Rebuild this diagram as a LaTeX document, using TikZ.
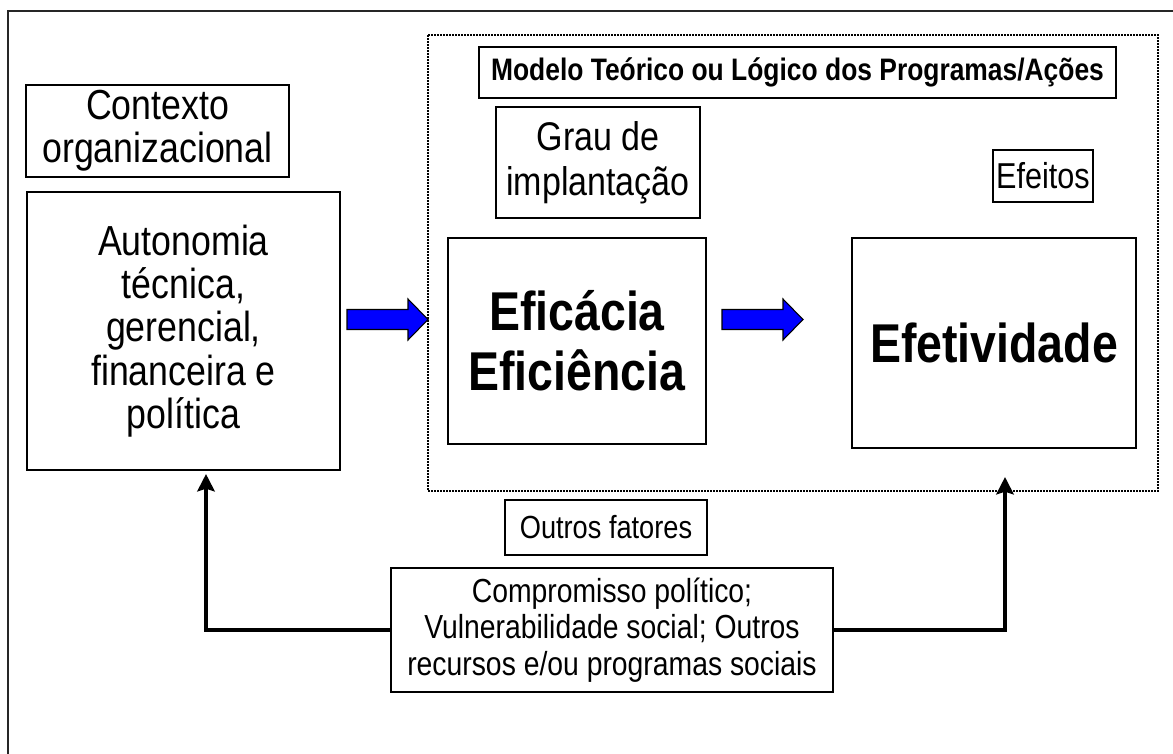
\documentclass[tikz,border=0pt]{standalone}
\usepackage{fontspec}
\setmainfont{Liberation Sans}[FakeStretch=0.85]
\usetikzlibrary{arrows.meta, positioning}
\newcommand{\bodysize}{\fontsize{30}{34}\selectfont}
\newcommand{\leftsize}{\fontsize{31.5}{32.5}\selectfont}
\newcommand{\bigsize}{\fontsize{41}{45}\selectfont\bfseries}
\newcommand{\smallsize}{\fontsize{24}{27}\selectfont}
\newcommand{\compsize}{\fontsize{25}{27.5}\selectfont}
\newcommand{\headsize}{\fontsize{23.3}{26}\selectfont\bfseries}
\tikzset{
	box/.style={draw=black, line width=1pt, align=center, inner sep=0pt, font=\bodysize},
	dotbox/.style={draw=black, line width=1pt, dash pattern=on 1.5pt off 0.75pt},
	blockarr/.style={fill=blue, draw=black, line width=0.8pt, line join=miter},
	fbarr/.style={-{Stealth[length=13pt, width=13pt, inset=2pt]}, line width=3pt, draw=black}
}

\begin{document}
\begin{tikzpicture}[x=0.75pt, y=-0.75pt]
	\useasboundingbox (0,0) rectangle (1173,753);
	\clip (0,0) rectangle (1173,753);
	\draw[line width=1.5pt, draw=black!85] (8,11) rectangle (1200,790);
	% model frame
	\draw[dotbox] (428,35) rectangle (1158,491);
	\node[box, font=\headsize, minimum width=477.75pt, minimum height=38.25pt] (modelo) at (797.5,72.5) {Modelo Teórico ou Lógico dos Programas/Ações};
	% left side
	\node[box, font=\leftsize, minimum width=234.75pt, minimum height=208.5pt] (auto) at (183.5,331) {Autonomia\\técnica,\\gerencial,\\financeira e\\política};
	\node[box, font=\leftsize, minimum width=197.25pt, minimum height=69pt] (ctx) at (157.5,131) {Contexto\\organizacional};
	% program model
	\node[box, font=\bigsize, minimum width=193.5pt, minimum height=154.5pt] (efic) at (577,341) {Eficácia\\Eficiência};
	\node[box, minimum width=153pt, minimum height=83.25pt] (grau) at (598,162.5) {Grau de\\implantação};
	\node[box, font=\bigsize, minimum width=213pt, minimum height=157.5pt] (efet) at (994,343) {Efetividade};
	\node[box, font=\fontsize{27}{30}\selectfont, minimum width=75pt, minimum height=39pt] (efeitos) at (1043,176) {Efeitos};
	% other factors
	\node[box, font=\smallsize, minimum width=151.5pt, minimum height=41.25pt] (outros) at (606,527.5) {Outros fatores};
	\node[box, font=\compsize, minimum width=331.5pt, minimum height=93pt] (comp) at (612,630) {Compromisso político;\\Vulnerabilidade social; Outros\\recursos e/ou programas sociais};
	% block arrows
	\draw[blockarr] (347,319.5) ++(0,-10) -- ++(61,0) -- ++(0,-10.5) -- ++(20,20.5) -- ++(-20,20.5) -- ++(0,-10.5) -- ++(-61,0) -- cycle;
	\draw[blockarr] (722,319.5) ++(0,-10) -- ++(61,0) -- ++(0,-10.5) -- ++(20,20.5) -- ++(-20,20.5) -- ++(0,-10.5) -- ++(-61,0) -- cycle;
	% feedback
	\coordinate (autoin) at (206,474);
	\coordinate (efetin) at (1005,477);
	\draw[fbarr] (comp.west) -| (autoin);
	\draw[fbarr] (comp.east) -| (efetin);
\end{tikzpicture}
\end{document}
